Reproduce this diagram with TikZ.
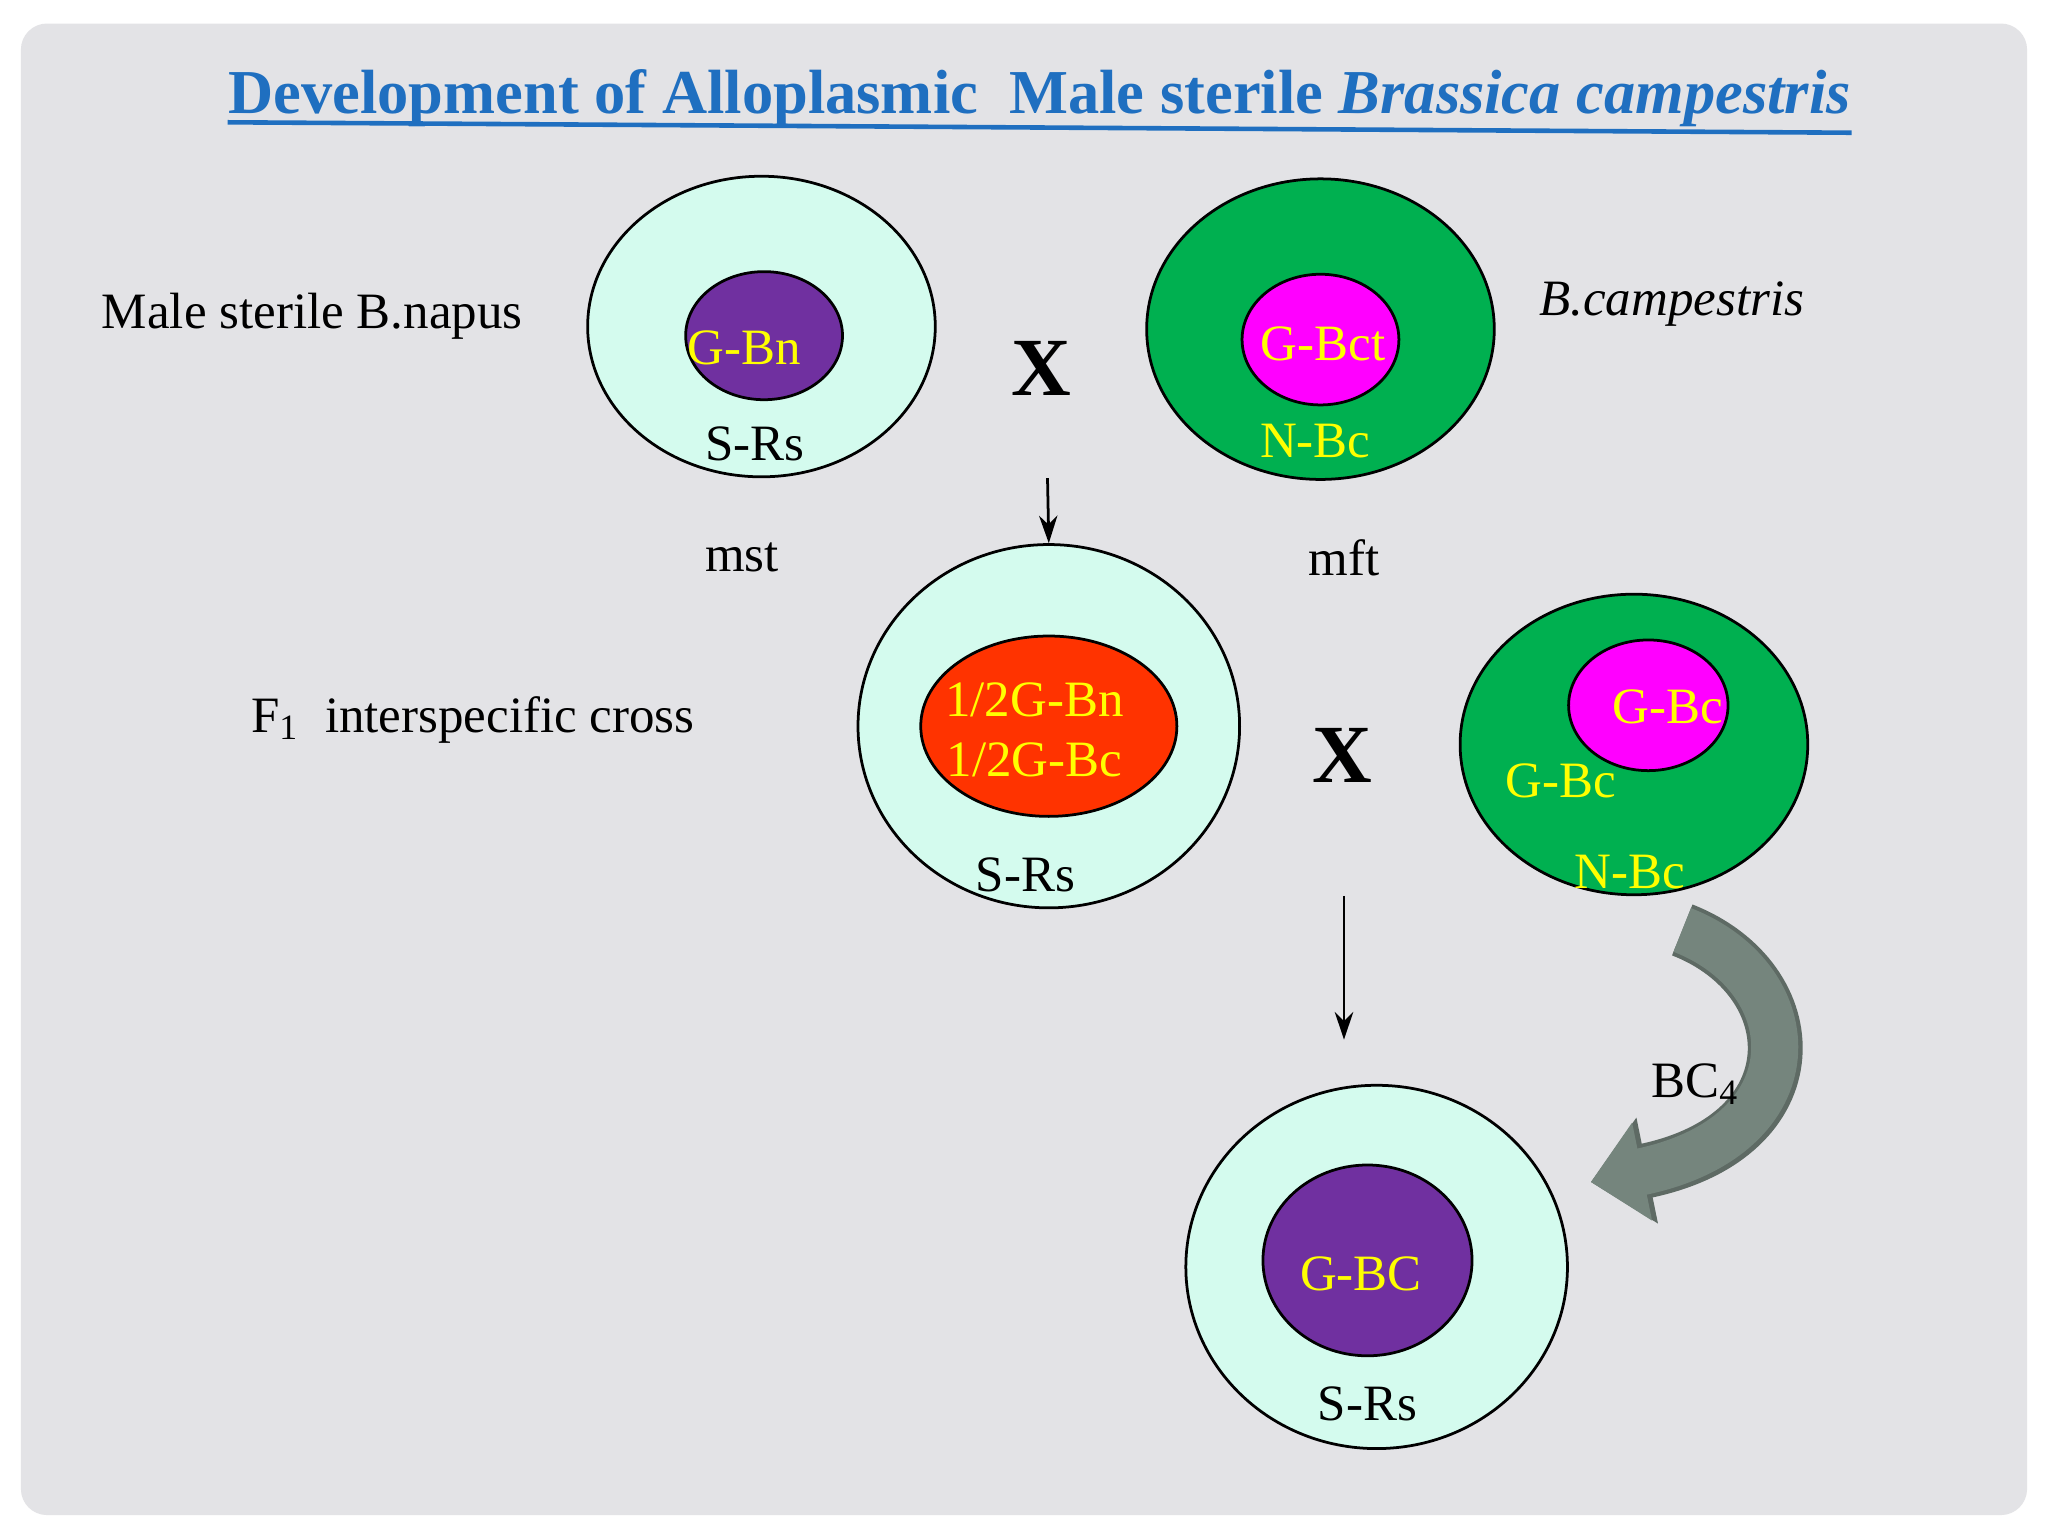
\documentclass[tikz,border=0pt]{standalone}
\usepackage{fontspec}
\setmainfont{Liberation Serif}
\usetikzlibrary{shapes.geometric,arrows.meta}
\definecolor{bg}{HTML}{E3E3E6}
\definecolor{lcyan}{HTML}{D4FBEE}
\definecolor{grn}{HTML}{00B050}
\definecolor{purp}{HTML}{7030A0}
\definecolor{mag}{HTML}{FF00FF}
\definecolor{redo}{HTML}{FF3300}
\definecolor{ttl}{HTML}{1F6FC0}
\definecolor{yel}{HTML}{FFFF00}
\definecolor{garrow}{HTML}{75857D}
\begin{document}
\begin{tikzpicture}[x=0.01cm,y=-0.01cm,
  ell/.style={ellipse,draw=black,line width=0.6pt,inner sep=0pt},
  txt/.style={font=\fontsize{11.1}{13}\selectfont,inner sep=0pt},
  ytxt/.style={txt,text=yel},
  bigx/.style={font=\fontsize{18}{19}\selectfont\bfseries,inner sep=0pt},
  arr/.style={-{Stealth[length=6pt,width=4pt]},line width=0.6pt}]
\useasboundingbox (0,0) rectangle (1568,1176);
\fill[white] (0,0) rectangle (1568,1176);
\fill[bg,rounded corners=0.2cm] (16,18) rectangle (1552,1160);
\node[inner sep=0pt,text=ttl,font=\fontsize{13.6}{15}\selectfont\bfseries] (title) at (796,75)
  {Development of Alloplasmic\ \ Male sterile \textit{Brassica campestris}};
\draw[ttl,line width=1pt] (title.south west) ++(0,-4) -- ([yshift=-0.04cm]title.south east);
% top left
\node[ell,fill=lcyan,minimum width=2.66cm,minimum height=2.30cm] (e1) at (583,250) {};
\node[ell,fill=purp,minimum width=1.20cm,minimum height=0.98cm] (i1) at (585,257) {};
\node[ytxt] (t1) at (570,266) {G-Bn};
\node[txt] (s1) at (578,340) {S-Rs};
\node[txt] (l1) at (239,242) {Male sterile B.napus};
\node[bigx] (x1) at (797,282) {X};
% top right
\node[ell,fill=grn,minimum width=2.66cm,minimum height=2.30cm] (e2) at (1011,252) {};
\node[ell,fill=mag,minimum width=1.20cm,minimum height=1.00cm] (i2) at (1011,260) {};
\node[ytxt] (t2) at (1013,263) {G-Bct};
\node[ytxt] (n2) at (1007,338) {N-Bc};
\node[txt,font=\fontsize{11.1}{13}\selectfont\itshape] (l2) at (1280,233) {B.campestris};
\node[txt] (mst) at (568,427) {mst};
\node[txt] (mft) at (1029,427) {mft};
\coordinate (a1s) at (802,366);
% F1
\node[ell,fill=lcyan,minimum width=2.92cm,minimum height=2.78cm] (e3) at (803,556) {};
\node[ell,fill=redo,minimum width=1.96cm,minimum height=1.38cm] (i3) at (803,556) {};
\node[ytxt] (t3a) at (792,536) {1/2G-Bn};
\node[ytxt] (t3b) at (792,582) {1/2G-Bc};
\node[txt] (s3) at (785,670) {S-Rs};
\draw[arr] (a1s) -- (e3.north);
\node[txt] (l3) at (362,551) {F\textsubscript{1}\ \ interspecific cross};
\node[bigx] (x2) at (1028,578) {X};
% right green
\node[ell,fill=grn,minimum width=2.66cm,minimum height=2.30cm] (e4) at (1251,570) {};
\node[ell,fill=mag,minimum width=1.22cm,minimum height=1.00cm] (i4) at (1262,540) {};
\node[ytxt] (t4a) at (1277,541) {G-Bc};
\node[ytxt] (t4b) at (1195,598) {G-Bc};
\node[ytxt] (n4) at (1248,668) {N-Bc};
% arrow down
\coordinate (a2s) at (1029,686);
\coordinate (a2e) at (1029,796);
\draw[arr] (a2s) -- (a2e);
% curved arrow
\coordinate (c1) at (1288,712);
\coordinate (c2) at (1218,905);
\draw[garrow!80!black,line width=0.42cm,-{Triangle[length=0.44cm,width=0.8cm]}] (c1) .. controls (1385,750) and (1390,870) .. (c2);
\draw[garrow,line width=0.36cm,-{Triangle[length=0.4cm,width=0.74cm]}] (c1) .. controls (1385,750) and (1390,870) .. (c2);
\node[txt] (bc) at (1298,830) {BC\textsubscript{4}};
% bottom
\node[ell,fill=lcyan,minimum width=2.92cm,minimum height=2.78cm] (e5) at (1054,970) {};
\node[ell,fill=purp,minimum width=1.60cm,minimum height=1.46cm] (i5) at (1047,965) {};
\node[ytxt] (t5) at (1042,975) {G-BC};
\node[txt] (s5) at (1047,1075) {S-Rs};
\end{tikzpicture}
\end{document}
